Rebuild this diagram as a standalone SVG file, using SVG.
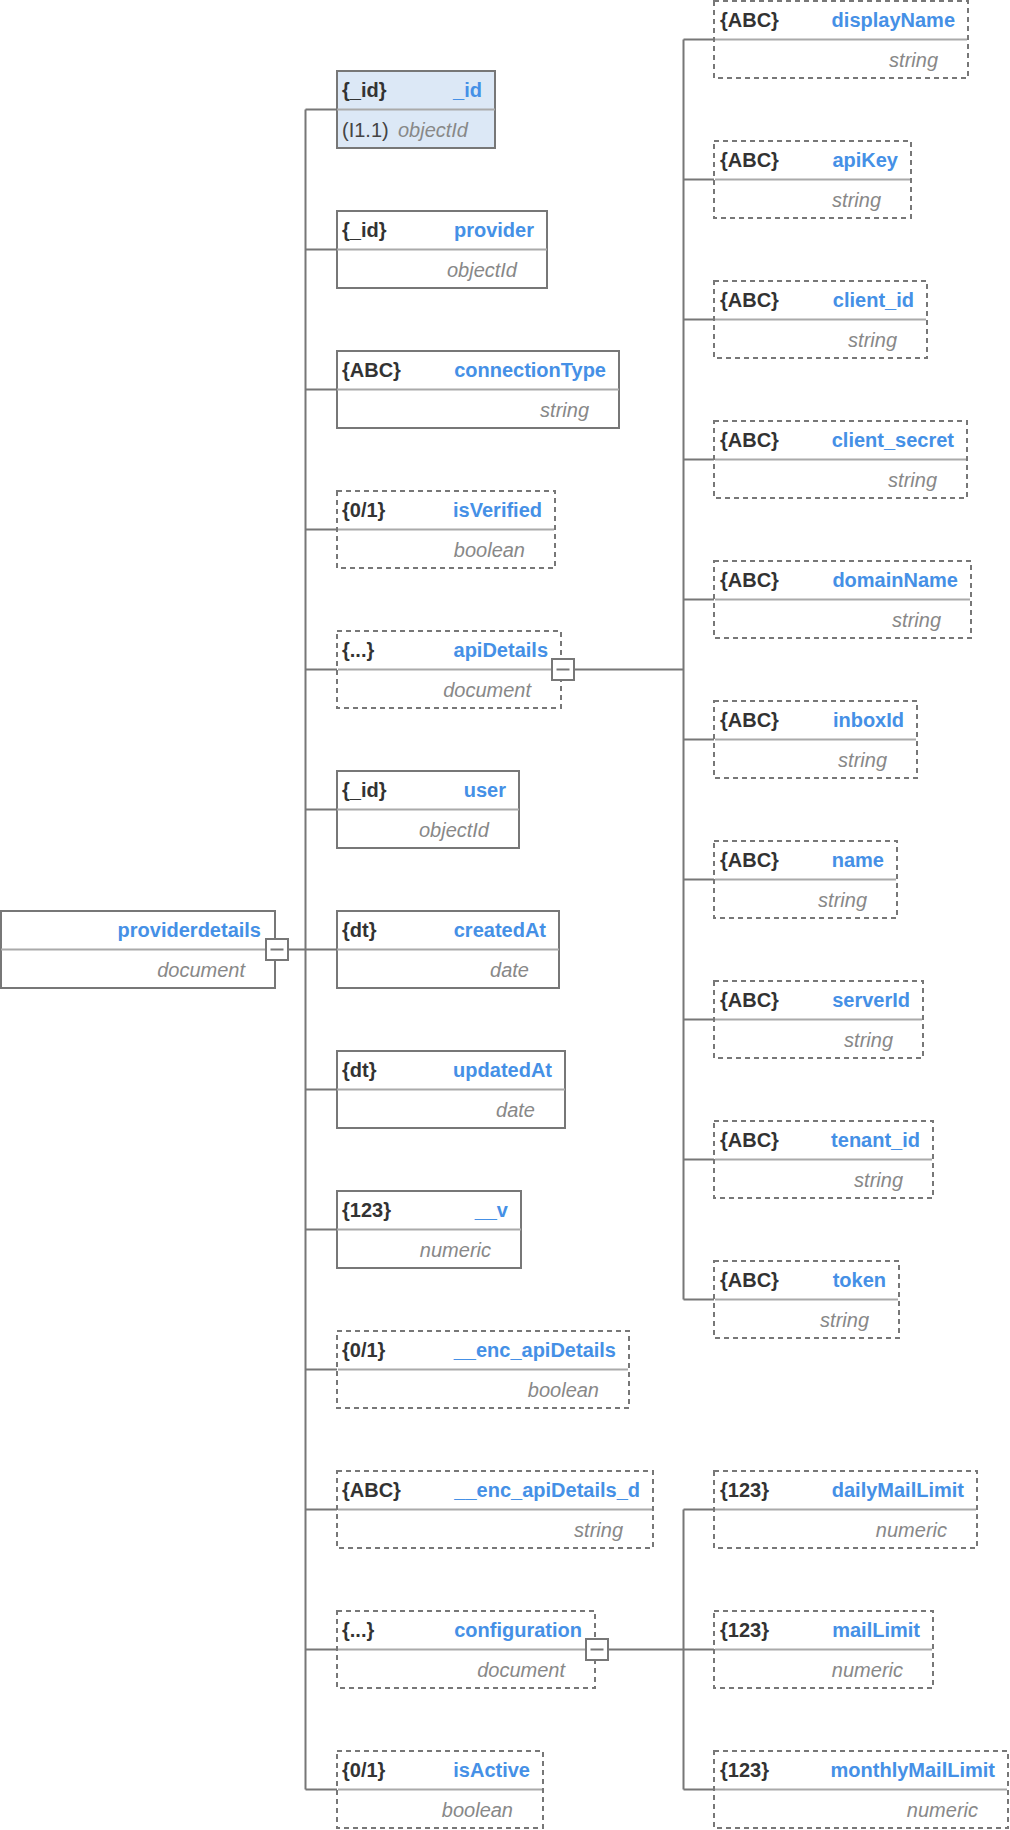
<svg xmlns="http://www.w3.org/2000/svg" width="1010" height="1830" viewBox="0 0 1010 1830">
<style>
.b{fill:#fff;stroke:#777;stroke-width:2}
.d{fill:#fff;stroke:#777;stroke-width:2;stroke-dasharray:5,4}
.hl{fill:#dce8f6}
.dv{stroke:#aaa;stroke-width:2}
.c{stroke:#777;stroke-width:2;fill:none}
.tg{fill:#fff;stroke:#777;stroke-width:2}
text{font-family:"Liberation Sans",Arial,Helvetica,sans-serif;font-size:20px}
.t{font-weight:bold;fill:#333}
.n{font-weight:bold;fill:#4590e6;text-anchor:end}
.y{font-style:italic;fill:#888;text-anchor:end}
.p{fill:#444}
</style>
<rect width="1010" height="1830" fill="#fff"/>
<g id="connectors">
<path class="c" d="M288 949.5H305.5M305.5 109.5V1789.5M305.5 109.5H337M305.5 249.5H337M305.5 389.5H337M305.5 529.5H337M305.5 669.5H337M305.5 809.5H337M305.5 949.5H337M305.5 1089.5H337M305.5 1229.5H337M305.5 1369.5H337M305.5 1509.5H337M305.5 1649.5H337M305.5 1789.5H337"/>
<path class="c" d="M574 669.5H683.5M683.5 39.5V1299.5M683.5 39.5H714M683.5 179.5H714M683.5 319.5H714M683.5 459.5H714M683.5 599.5H714M683.5 739.5H714M683.5 879.5H714M683.5 1019.5H714M683.5 1159.5H714M683.5 1299.5H714"/>
<path class="c" d="M608 1649.5H683.5M683.5 1509.5V1789.5M683.5 1509.5H714M683.5 1649.5H714M683.5 1789.5H714"/>
</g>
<g id="providerdetails">
<rect class="b" x="1" y="911" width="274" height="77"/>
<line class="dv" x1="1" y1="949.5" x2="275" y2="949.5"/>
<text class="n" x="261" y="937">providerdetails</text>
<text class="y" x="245" y="976.5">document</text>
<rect class="tg" x="266" y="939" width="22" height="21"/>
<line class="c" x1="270.5" y1="949.5" x2="283.5" y2="949.5"/>
</g>
<g id="f_id">
<rect class="b hl" x="337" y="71" width="158" height="77"/>
<line class="dv" x1="337" y1="109.5" x2="495" y2="109.5"/>
<text class="t" x="342" y="97">{_id}</text>
<text class="n" x="482" y="97">_id</text>
<text class="p" x="342" y="136.5">(I1.1)</text>
<text class="y" x="468" y="136.5">objectId</text>
</g>
<g id="f_provider">
<rect class="b" x="337" y="211" width="210" height="77"/>
<line class="dv" x1="337" y1="249.5" x2="547" y2="249.5"/>
<text class="t" x="342" y="237">{_id}</text>
<text class="n" x="534" y="237">provider</text>
<text class="y" x="517" y="276.5">objectId</text>
</g>
<g id="f_connectionType">
<rect class="b" x="337" y="351" width="282" height="77"/>
<line class="dv" x1="337" y1="389.5" x2="619" y2="389.5"/>
<text class="t" x="342" y="377">{ABC}</text>
<text class="n" x="606" y="377">connectionType</text>
<text class="y" x="589" y="416.5">string</text>
</g>
<g id="f_isVerified">
<rect class="d" x="337" y="491" width="218" height="77"/>
<line class="dv" x1="338" y1="529.5" x2="554" y2="529.5"/>
<text class="t" x="342" y="517">{0/1}</text>
<text class="n" x="542" y="517">isVerified</text>
<text class="y" x="525" y="556.5">boolean</text>
</g>
<g id="f_apiDetails">
<rect class="d" x="337" y="631" width="224" height="77"/>
<line class="dv" x1="338" y1="669.5" x2="560" y2="669.5"/>
<text class="t" x="342" y="657">{...}</text>
<text class="n" x="548" y="657">apiDetails</text>
<text class="y" x="531" y="696.5">document</text>
<rect class="tg" x="552" y="659" width="22" height="21"/>
<line class="c" x1="556.5" y1="669.5" x2="569.5" y2="669.5"/>
</g>
<g id="f_user">
<rect class="b" x="337" y="771" width="182" height="77"/>
<line class="dv" x1="337" y1="809.5" x2="519" y2="809.5"/>
<text class="t" x="342" y="797">{_id}</text>
<text class="n" x="506" y="797">user</text>
<text class="y" x="489" y="836.5">objectId</text>
</g>
<g id="f_createdAt">
<rect class="b" x="337" y="911" width="222" height="77"/>
<line class="dv" x1="337" y1="949.5" x2="559" y2="949.5"/>
<text class="t" x="342" y="937">{dt}</text>
<text class="n" x="546" y="937">createdAt</text>
<text class="y" x="529" y="976.5">date</text>
</g>
<g id="f_updatedAt">
<rect class="b" x="337" y="1051" width="228" height="77"/>
<line class="dv" x1="337" y1="1089.5" x2="565" y2="1089.5"/>
<text class="t" x="342" y="1077">{dt}</text>
<text class="n" x="552" y="1077">updatedAt</text>
<text class="y" x="535" y="1116.5">date</text>
</g>
<g id="f__v">
<rect class="b" x="337" y="1191" width="184" height="77"/>
<line class="dv" x1="337" y1="1229.5" x2="521" y2="1229.5"/>
<text class="t" x="342" y="1217">{123}</text>
<text class="n" x="508" y="1217">__v</text>
<text class="y" x="491" y="1256.5">numeric</text>
</g>
<g id="f__enc_apiDetails">
<rect class="d" x="337" y="1331" width="292" height="77"/>
<line class="dv" x1="338" y1="1369.5" x2="628" y2="1369.5"/>
<text class="t" x="342" y="1357">{0/1}</text>
<text class="n" x="616" y="1357">__enc_apiDetails</text>
<text class="y" x="599" y="1396.5">boolean</text>
</g>
<g id="f__enc_apiDetails_d">
<rect class="d" x="337" y="1471" width="316" height="77"/>
<line class="dv" x1="338" y1="1509.5" x2="652" y2="1509.5"/>
<text class="t" x="342" y="1497">{ABC}</text>
<text class="n" x="640" y="1497">__enc_apiDetails_d</text>
<text class="y" x="623" y="1536.5">string</text>
</g>
<g id="f_configuration">
<rect class="d" x="337" y="1611" width="258" height="77"/>
<line class="dv" x1="338" y1="1649.5" x2="594" y2="1649.5"/>
<text class="t" x="342" y="1637">{...}</text>
<text class="n" x="582" y="1637">configuration</text>
<text class="y" x="565" y="1676.5">document</text>
<rect class="tg" x="586" y="1639" width="22" height="21"/>
<line class="c" x1="590.5" y1="1649.5" x2="603.5" y2="1649.5"/>
</g>
<g id="f_isActive">
<rect class="d" x="337" y="1751" width="206" height="77"/>
<line class="dv" x1="338" y1="1789.5" x2="542" y2="1789.5"/>
<text class="t" x="342" y="1777">{0/1}</text>
<text class="n" x="530" y="1777">isActive</text>
<text class="y" x="513" y="1816.5">boolean</text>
</g>
<g id="a_displayName">
<rect class="d" x="714" y="1" width="254" height="77"/>
<line class="dv" x1="715" y1="39.5" x2="967" y2="39.5"/>
<text class="t" x="720" y="27">{ABC}</text>
<text class="n" x="955" y="27">displayName</text>
<text class="y" x="938" y="66.5">string</text>
</g>
<g id="a_apiKey">
<rect class="d" x="714" y="141" width="197" height="77"/>
<line class="dv" x1="715" y1="179.5" x2="910" y2="179.5"/>
<text class="t" x="720" y="167">{ABC}</text>
<text class="n" x="898" y="167">apiKey</text>
<text class="y" x="881" y="206.5">string</text>
</g>
<g id="a_client_id">
<rect class="d" x="714" y="281" width="213" height="77"/>
<line class="dv" x1="715" y1="319.5" x2="926" y2="319.5"/>
<text class="t" x="720" y="307">{ABC}</text>
<text class="n" x="914" y="307">client_id</text>
<text class="y" x="897" y="346.5">string</text>
</g>
<g id="a_client_secret">
<rect class="d" x="714" y="421" width="253" height="77"/>
<line class="dv" x1="715" y1="459.5" x2="966" y2="459.5"/>
<text class="t" x="720" y="447">{ABC}</text>
<text class="n" x="954" y="447">client_secret</text>
<text class="y" x="937" y="486.5">string</text>
</g>
<g id="a_domainName">
<rect class="d" x="714" y="561" width="257" height="77"/>
<line class="dv" x1="715" y1="599.5" x2="970" y2="599.5"/>
<text class="t" x="720" y="587">{ABC}</text>
<text class="n" x="958" y="587">domainName</text>
<text class="y" x="941" y="626.5">string</text>
</g>
<g id="a_inboxId">
<rect class="d" x="714" y="701" width="203" height="77"/>
<line class="dv" x1="715" y1="739.5" x2="916" y2="739.5"/>
<text class="t" x="720" y="727">{ABC}</text>
<text class="n" x="904" y="727">inboxId</text>
<text class="y" x="887" y="766.5">string</text>
</g>
<g id="a_name">
<rect class="d" x="714" y="841" width="183" height="77"/>
<line class="dv" x1="715" y1="879.5" x2="896" y2="879.5"/>
<text class="t" x="720" y="867">{ABC}</text>
<text class="n" x="884" y="867">name</text>
<text class="y" x="867" y="906.5">string</text>
</g>
<g id="a_serverId">
<rect class="d" x="714" y="981" width="209" height="77"/>
<line class="dv" x1="715" y1="1019.5" x2="922" y2="1019.5"/>
<text class="t" x="720" y="1007">{ABC}</text>
<text class="n" x="910" y="1007">serverId</text>
<text class="y" x="893" y="1046.5">string</text>
</g>
<g id="a_tenant_id">
<rect class="d" x="714" y="1121" width="219" height="77"/>
<line class="dv" x1="715" y1="1159.5" x2="932" y2="1159.5"/>
<text class="t" x="720" y="1147">{ABC}</text>
<text class="n" x="920" y="1147">tenant_id</text>
<text class="y" x="903" y="1186.5">string</text>
</g>
<g id="a_token">
<rect class="d" x="714" y="1261" width="185" height="77"/>
<line class="dv" x1="715" y1="1299.5" x2="898" y2="1299.5"/>
<text class="t" x="720" y="1287">{ABC}</text>
<text class="n" x="886" y="1287">token</text>
<text class="y" x="869" y="1326.5">string</text>
</g>
<g id="c_dailyMailLimit">
<rect class="d" x="714" y="1471" width="263" height="77"/>
<line class="dv" x1="715" y1="1509.5" x2="976" y2="1509.5"/>
<text class="t" x="720" y="1497">{123}</text>
<text class="n" x="964" y="1497">dailyMailLimit</text>
<text class="y" x="947" y="1536.5">numeric</text>
</g>
<g id="c_mailLimit">
<rect class="d" x="714" y="1611" width="219" height="77"/>
<line class="dv" x1="715" y1="1649.5" x2="932" y2="1649.5"/>
<text class="t" x="720" y="1637">{123}</text>
<text class="n" x="920" y="1637">mailLimit</text>
<text class="y" x="903" y="1676.5">numeric</text>
</g>
<g id="c_monthlyMailLimit">
<rect class="d" x="714" y="1751" width="294" height="77"/>
<line class="dv" x1="715" y1="1789.5" x2="1007" y2="1789.5"/>
<text class="t" x="720" y="1777">{123}</text>
<text class="n" x="995" y="1777">monthlyMailLimit</text>
<text class="y" x="978" y="1816.5">numeric</text>
</g>
</svg>
